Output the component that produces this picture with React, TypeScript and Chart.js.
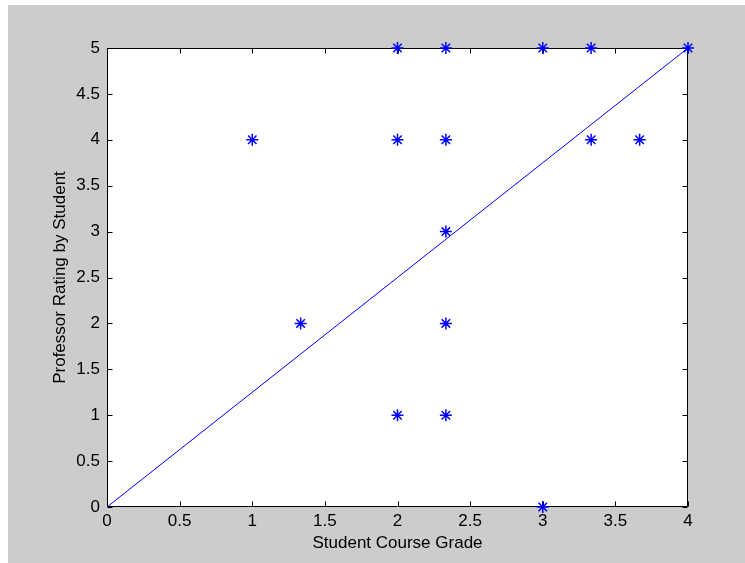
import React, { useEffect, useRef } from "react";
import { Chart, registerables } from "chart.js";

Chart.register(...registerables);

const gradeValues = [1, 1.333, 2, 2, 2, 2.333, 2.333, 2.333, 2.333, 2.333, 3, 3, 3.333, 3.333, 3.667, 4];
const ratingValues = [4, 2, 5, 4, 1, 5, 4, 3, 2, 1, 5, 0, 5, 4, 4, 5];
const fitX = [0, 4];
const fitY = [0, 5];
const xTitle = "Student Course Grade";
const yTitle = "Professor Rating by Student";

const FONT = '"Liberation Sans", Arial, Helvetica, sans-serif';
const BLUE = "#0000ff";

const fmt = (v: any) => String(Math.round(Number(v) * 100) / 100);

const boxPlugin = {
  id: "matlabBox",
  beforeDraw(chart: any) {
    const { ctx, chartArea: a } = chart;
    ctx.save();
    ctx.fillStyle = "#ffffff";
    ctx.fillRect(a.left, a.top, a.right - a.left, a.bottom - a.top);
    ctx.restore();
  },
  beforeDatasetsDraw(chart: any) {
    const { ctx, chartArea: a, scales } = chart;
    const L = Math.round(a.left) + 0.5;
    const R = Math.round(a.right) - 0.5;
    const T = Math.round(a.top) + 0.5;
    const B = Math.round(a.bottom) - 0.5;
    ctx.save();
    ctx.strokeStyle = "#000000";
    ctx.lineWidth = 1;
    ctx.beginPath();
    ctx.rect(L, T, R - L, B - T);
    const tl = 5;
    scales.x.ticks.forEach((t: any) => {
      const px = Math.round(scales.x.getPixelForValue(t.value)) + 0.5;
      ctx.moveTo(px, B);
      ctx.lineTo(px, B - tl);
      ctx.moveTo(px, T);
      ctx.lineTo(px, T + tl);
    });
    scales.y.ticks.forEach((t: any) => {
      const py = Math.round(scales.y.getPixelForValue(t.value)) + 0.5;
      ctx.moveTo(L, py);
      ctx.lineTo(L + tl, py);
      ctx.moveTo(R, py);
      ctx.lineTo(R - tl, py);
    });
    ctx.stroke();
    ctx.restore();
  },
};

export default function App() {
  const ref = useRef<HTMLCanvasElement | null>(null);

  useEffect(() => {
    document.body.style.margin = "0";
    const canvas = ref.current!;
    const points = gradeValues.map((g, i) => ({ x: g, y: ratingValues[i] }));
    const fit = fitX.map((x, i) => ({ x, y: fitY[i] }));
    const chart = new Chart(canvas, {
      type: "scatter",
      data: {
        datasets: [
          {
            type: "line",
            data: fit,
            borderColor: BLUE,
            borderWidth: 1,
            pointRadius: 0,
            fill: false,
            clip: false as any,
            order: 2,
          },
          {
            data: points,
            pointStyle: "star",
            radius: 6,
            borderColor: BLUE,
            backgroundColor: BLUE,
            borderWidth: 1.5,
            clip: false as any,
            order: 1,
          } as any,
        ],
      },
      options: {
        animation: false,
        responsive: false,
        maintainAspectRatio: false,
        devicePixelRatio: 1,
        layout: { padding: { top: 43, right: 57, bottom: 0, left: 0 } },
        plugins: { legend: { display: false }, tooltip: { enabled: false } },
        scales: {
          x: {
            type: "linear",
            min: 0,
            max: 4,
            afterFit(scale: any) {
              scale.height = 56;
            },
            grid: { display: false, drawTicks: false, tickLength: 0 },
            border: { display: false },
            ticks: {
              stepSize: 0.5,
              padding: 4,
              color: "#000",
              font: { family: FONT, size: 17 },
              maxRotation: 0,
              autoSkip: false,
              callback: fmt,
            },
            title: {
              display: true,
              text: xTitle,
              color: "#000",
              font: { family: FONT, size: 17 },
              padding: { top: 0, bottom: 9 },
            },
          },
          y: {
            type: "linear",
            min: 0,
            max: 5,
            afterFit(scale: any) {
              scale.width = 99;
            },
            grid: { display: false, drawTicks: false, tickLength: 0 },
            border: { display: false },
            ticks: {
              stepSize: 0.5,
              padding: 7,
              color: "#000",
              font: { family: FONT, size: 17 },
              autoSkip: false,
              callback: fmt,
            },
            title: {
              display: true,
              text: yTitle,
              color: "#000",
              font: { family: FONT, size: 17 },
              padding: { top: 42, bottom: 0 },
            },
          },
        },
      },
      plugins: [boxPlugin],
    });
    return () => chart.destroy();
  }, []);

  return (
    <div style={{ padding: "5px 0 0 8px", background: "#ffffff" }}>
      <canvas
        ref={ref}
        width={737}
        height={558}
        style={{ display: "block", width: 737, height: 558, background: "#cccccc" }}
      />
    </div>
  );
}
